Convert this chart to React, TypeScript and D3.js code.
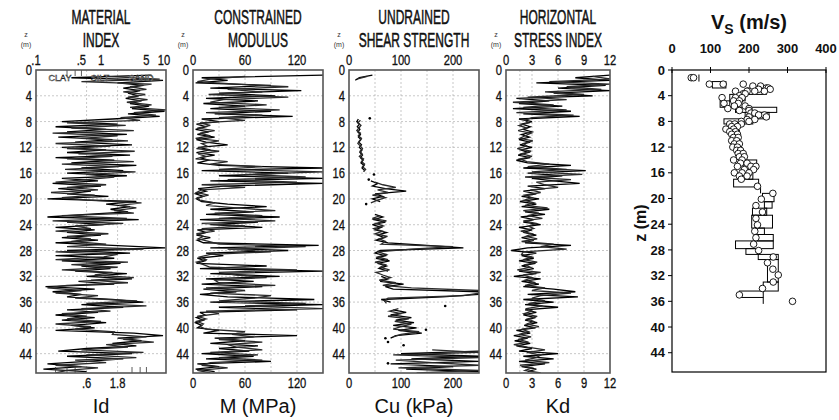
import React from 'react';
import * as d3 from 'd3';

// ---------------- DATA ----------------
// Two DMT soundings, each read every 0.4 m (A from 0.8 m, B from 1.0 m)
const DEPTH_START_A = 0.8;
const DEPTH_START_B = 1.0;
const DEPTH_STEP = 0.4;

const ID_A = [
  6, 0.35, 9, 1.8, 4.5, 2.2, 4, 2.6, 3.8, 2.4,
  4.2, 2.8, 5.5, 3, 9.5, 2.6, 8, 1.5, 0.25, 1.8,
  0.2, 1.2, 0.3, 2.5, 0.22, 1.5, 0.4, 3, 0.25, 1.2,
  0.3, 2.8, 0.2, 1.6, 0.35, 3.5, 0.5, 2.2, 0.3, 2.5,
  0.25, 0.9, 0.18, 1.0, 0.22, 0.7, 0.3, 1.3, 0.15, 3.5,
  1.2, 2.8, 1.4, 2.6, 0.6, 0.15, 3.8, 0.3, 1.1, 0.2,
  0.8, 0.3, 1.0, 0.25, 0.9, 0.2, 1.5, 9.8, 0.3, 2.8,
  0.2, 1.6, 0.25, 2.0, 0.5, 1.4, 0.4, 2.5, 0.6, 3.0,
  0.45, 1.6, 0.14, 0.8, 0.18, 0.5, 0.3, 1.5, 4.5, 0.5,
  2.2, 0.3, 0.9, 0.2, 0.8, 0.25, 1.2, 0.35, 0.8, 0.2,
  3.2, 9, 1.8, 4.2, 1.5, 3.5, 0.6, 0.22, 3.0, 0.3,
  2.2, 0.6, 0.15, 0.5, 0.13, 0.6,
];
const ID_B = [
  1.2, 8, 0.5, 6, 2.8, 5, 2.2, 4.8, 2.6, 5.2,
  2.5, 6, 2.8, 10, 3.2, 7, 2, 4, 0.3, 2.4,
  0.35, 3.2, 0.18, 1.8, 0.5, 2.6, 0.2, 1.4, 0.3, 3.3,
  0.45, 1.5, 0.3, 3.2, 0.25, 1.9, 0.28, 3.4, 0.6, 1.6,
  0.6, 0.2, 1.2, 0.3, 0.9, 0.17, 0.8, 0.25, 0.6, 4.2,
  1.9, 3.5, 1.6, 3.2, 0.25, 2.5, 0.18, 2.2, 0.4, 0.7,
  0.2, 1.3, 0.3, 0.7, 0.35, 1.2, 0.3, 4.5, 0.2, 1.8,
  1.1, 0.2, 2.6, 0.35, 1.8, 0.25, 1.5, 0.8, 3.2, 0.7,
  2.6, 0.3, 0.15, 0.5, 0.2, 0.9, 0.4, 3.6, 0.6, 5,
  0.5, 1.4, 0.25, 0.6, 0.3, 1.0, 0.2, 0.7, 0.4, 1.6,
  1.5, 5, 2.2, 6.5, 1.2, 2.6, 0.5, 4.5, 0.6, 3.5,
  0.4, 1.2, 0.2, 0.9, 0.3, 0.2,
];

const M_A = [
  150, 10, 40, 3, 90, 20, 125, 30, 95, 15,
  75, 12, 60, 20, 90, 25, 115, 10, 30, 4,
  15, 3, 18, 5, 25, 4, 15, 40, 6, 20,
  4, 25, 8, 18, 5, 30, 150, 10, 110, 30,
  150, 20, 150, 35, 6, 15, 3, 12, 4, 10,
  40, 85, 20, 70, 15, 100, 8, 75, 20, 80,
  5, 15, 4, 20, 5, 12, 145, 20, 110, 15,
  35, 5, 14, 4, 85, 8, 150, 20, 100, 15,
  70, 10, 80, 12, 50, 8, 40, 140, 20, 150,
  30, 120, 8, 14, 4, 12, 3, 10, 5, 30,
  12, 120, 25, 60, 20, 75, 30, 65, 10, 70,
  15, 90, 5, 30, 3, 25,
];
const M_B = [
  60, 20, 5, 50, 110, 40, 80, 18, 110, 35,
  20, 85, 30, 100, 15, 80, 30, 60, 8, 20,
  5, 25, 8, 20, 3, 30, 10, 16, 4, 30,
  6, 15, 3, 40, 20, 80, 30, 150, 60, 130,
  40, 120, 10, 60, 10, 4, 18, 5, 8, 25,
  15, 50, 95, 25, 80, 30, 95, 10, 60, 10,
  25, 4, 12, 6, 18, 30, 130, 40, 90, 20,
  8, 15, 4, 12, 20, 120, 30, 50, 85, 25,
  30, 95, 15, 60, 20, 90, 70, 30, 130, 60,
  150, 15, 30, 5, 15, 4, 12, 8, 15, 60,
  45, 70, 30, 80, 40, 50, 80, 20, 75, 30,
  80, 20, 10, 40, 5, 20,
];

const CU_A: (number | null)[] = [
  45, 20, 12, null, null, null, null, null, null, null,
  null, null, null, null, null, null, null, 18, 15, 20,
  16, 21, 17, 22, 18, 23, 19, 24, 20, 25,
  21, 26, 22, 27, 23, 29, 25, 30, null, 45,
  null, 42, 55, 45, 70, 110, 50, 65, 45, 60,
  null, null, null, null, 50, 65, 48, 70, 45, 62,
  50, 72, 55, 68, 52, 75, 150, 220, 60, 50,
  70, 52, 78, 55, 72, 58, 75, null, 62, 75,
  60, 105, 70, 85, 250, 250, 180, 62, 80, null,
  null, 85, 110, 80, 120, 90, 125, 85, 130, 95,
  140, 90, 80, null, null, null, null, 250, 100, 250,
  120, 250, 80, 200, 110, 250,
];
const CU_B: (number | null)[] = [
  35, 15, null, null, null, null, null, null, null, null,
  null, null, null, null, null, null, null, 22, 17, 23,
  19, 15, 22, 18, 24, 20, 17, 22, 26, 21,
  25, 20, 28, 24, 30, 26, 32, 28, null, 40,
  null, 50, 65, 90, 55, 75, 45, 70, 55, 42,
  null, null, null, null, 60, 45, 72, 52, 66, 48,
  65, 50, 74, 58, 70, 62, 200, 120, 55, 72,
  55, 75, 50, 70, 60, 78, 52, 65, 80, 58,
  90, 65, 120, 250, 250, 220, 75, 68, 72, null,
  95, 78, 100, 75, 115, 88, 120, 100, 85, 135,
  100, 85, null, null, null, null, 160, 250, 85, 250,
  90, 160, 250, 95, 250, 130,
];
const CU_DOT_DEPTH = [7.5, 16.2, 17.0, 20.8, 36.6, 40.3, 42.2, 42.7, 45.5, 41.6];
const CU_DOT_VALUE = [40, 48, 38, 33, 185, 148, 75, 105, 75, 70];

const KD_A = [
  12, 8, 12, 3.5, 11.5, 6, 12, 5.5, 10, 1.2,
  5, 1.5, 6.5, 0.8, 7.5, 2, 8.5, 1.5, 3, 1.8,
  2.8, 2, 3, 1.8, 2.7, 1.5, 2.8, 1.6, 3, 1.7,
  2.6, 1.4, 2.8, 1.2, 2.5, 7.5, 2, 9.2, 2.5, 6.5,
  3, 5.5, 8.5, 2.5, 4.5, 2, 3.5, 1.8, 3.8, 1.6,
  3.5, 1.8, 5, 2.2, 4.5, 1.7, 3.2, 2, 4, 1.5,
  3, 2, 3.5, 1.8, 3.2, 2.2, 7.5, 2.5, 0.6, 3.5,
  1.8, 3.2, 1.5, 3.4, 1.8, 3.2, 1.5, 3.5, 0.9, 4,
  1.8, 3.8, 2, 5.5, 8, 2.5, 8.3, 2, 5.5, 2.2,
  6, 2.2, 3.5, 2, 3.4, 2.2, 3.6, 2.1, 3.4, 1.2,
  2.8, 0.9, 2.5, 1, 2.8, 1.2, 3, 1.5, 6, 2,
  5.5, 1.5, 4.5, 1.8, 3.5, 2.5,
];
const KD_B = [
  10, 12, 5, 12, 7, 11, 4.5, 9, 2.5, 7,
  0.8, 5.5, 2, 7, 1.2, 7.8, 3, 2.2, 2.6, 1.5,
  2.4, 1.4, 2.9, 2.2, 1.6, 3.1, 2, 2.4, 1.3, 2.9,
  1.8, 3, 1.6, 2.4, 5, 2.5, 7, 3, 8.8, 2.2,
  7.5, 3.5, 4.5, 6, 2.8, 4, 2.2, 3, 2.1, 3.2,
  2.2, 4.8, 2, 3.8, 2.5, 4.2, 2, 3.5, 2.6, 3.2,
  1.7, 3, 2.3, 3.6, 1.8, 5.5, 4, 7, 2, 1.8,
  3, 2, 3.6, 2.2, 2.8, 1.3, 4, 2, 3, 2.2,
  3.4, 2.2, 4.5, 3, 7.5, 4, 3, 4.5, 2.6, 4.2,
  2.4, 3, 2.1, 3.6, 2.5, 3.2, 2.4, 3.8, 1.8, 2.6,
  1.5, 2.9, 1.4, 2.6, 0.9, 2.5, 4.5, 2.4, 4, 3.5,
  2.2, 5, 1.6, 3, 2.2, 4,
];

// Vs step profile layers (top depth, bottom depth, min Vs, max Vs)
const VS_LAYER_TOP = [0.7, 1.8, 2.8, 3.8, 4.8, 5.8, 6.6, 7.6, 8.4, 9.4, 12, 14, 15.5, 17, 18.2, 19.2, 20.5, 21.5, 22.6, 24.6, 25.6, 26.6, 27.8, 28.7, 29.5, 33.0, 34.4, 35.4];
const VS_LAYER_BOT = [1.8, 2.8, 3.8, 4.8, 5.8, 6.6, 7.6, 8.4, 9.4, 12, 14, 15.5, 17, 18.2, 19.2, 20.5, 21.5, 22.6, 24.6, 25.6, 26.6, 27.8, 28.7, 29.5, 33.0, 34.4, 35.4, 36.4];
const VS_LAYER_MIN = [70, 105, 195, 150, 125, 165, 190, 135, 145, 165, 175, 185, 195, 160, 230, 235, 240, 209, 207, 215, 222, 165, 192, 224, 248, 237, 175, 237];
const VS_LAYER_MAX = [70, 140, 245, 190, 150, 272, 252, 210, 165, 175, 180, 220, 210, 225, 230, 265, 260, 246, 261, 240, 263, 263, 224, 276, 276, 276, 237, 237];

// SCPT measured Vs points
const VS_POINT_DEPTH = [
  1.2, 1.2, 2.2, 2.2, 2.2, 2.5, 2.5, 2.8, 2.8, 3.0, 3.0, 3.3, 3.3, 3.3, 3.3,
  3.7, 3.7, 4.0, 4.3, 4.3, 4.3, 4.8, 4.8, 5.2, 5.2, 5.6, 5.6, 6.0, 6.0, 6.3, 6.3,
  6.7, 6.7, 7.0, 7.0, 7.3, 7.3, 7.7, 7.7, 8.0, 8.0, 8.4, 8.4, 8.4, 8.8, 8.8,
  9.2, 9.2, 9.6, 9.6, 10, 10, 10.5, 10.5, 11, 11, 11.5, 11.5, 12, 12, 12.5, 12.5,
  13, 13, 13.5, 13.5, 14, 14, 14.5, 14.5, 15, 15, 15, 15.5, 15.5, 16, 16, 16, 16.5, 16.5, 17,
  18.1, 19.2, 20.1, 21.1, 22.1, 23.1, 24.1, 25.1, 26.1, 27.1, 28.1, 29.1, 30.0, 31.0, 31.9, 33.0, 34.0, 35.0, 36.0,
];
const VS_POINT_VALUE = [
  50, 56, 97, 133, 185, 210, 230, 245, 250, 225, 255, 165, 195, 215, 240,
  185, 190, 175, 130, 165, 182, 160, 175, 135, 172, 162, 190, 145, 200, 175, 200,
  205, 215, 240, 225, 200, 245, 195, 215, 180, 200, 150, 163, 180, 155, 170,
  140, 160, 150, 165, 155, 170, 160, 172, 155, 168, 162, 175, 158, 170, 168, 178,
  172, 185, 175, 188, 160, 182, 178, 195, 170, 205, 218, 188, 212, 162, 182, 200, 175, 195, 180,
  222, 262, 232, 218, 235, 218, 222, 215, 218, 212, 225, 263, 248, 262, 276, 263, 235, 175, 313,
];

const Z_TICKS = [0, 4, 8, 12, 16, 20, 24, 28, 32, 36, 40, 44];
const VS_X_TICKS = [0, 100, 200, 300, 400];

// ---------------- LAYOUT ----------------
const SANS = "'Liberation Sans', Arial, sans-serif";
const Y_TOP = 70;
const Y_BOT = 373;
const yScale = d3.scaleLinear().domain([0, 47]).range([Y_TOP, Y_BOT]);

type Row = { z: number; v: number | null };
const toRows = (vals: (number | null)[], start: number): Row[] =>
  vals.map((v, i) => ({ z: start + i * DEPTH_STEP, v }));

type PanelCfg = {
  id: string;
  x0: number;
  x1: number;
  log?: boolean;
  domain: [number, number];
  soundings: Row[][];
  topTicks: { v: number; t: string }[];
  bottomTicks: { v: number; t: string }[];
  vgrid: number[];
  title: [string, string];
  axisTitle: string;
  dotsZ?: number[];
  dotsV?: number[];
  minorTop?: number[];
  minorBottom?: number[];
};

const PANELS: PanelCfg[] = [
  {
    id: 'id', x0: 36, x1: 166, log: true, domain: [0.1, 10],
    soundings: [toRows(ID_A, DEPTH_START_A), toRows(ID_B, DEPTH_START_B)],
    topTicks: [{ v: 0.1, t: '.1' }, { v: 0.5, t: '.5' }, { v: 1, t: '1' }, { v: 5, t: '5' }, { v: 10, t: '10' }],
    bottomTicks: [{ v: 0.6, t: '.6' }, { v: 1.8, t: '1.8' }],
    vgrid: [0.6, 1.8], title: ['MATERIAL', 'INDEX'], axisTitle: 'Id',
    minorTop: [0.3, 0.4, 0.5], minorBottom: [0.2, 0.3, 0.4, 3, 4, 5],
  },
  {
    id: 'm', x0: 193, x1: 323, domain: [0, 150],
    soundings: [toRows(M_A, DEPTH_START_A), toRows(M_B, DEPTH_START_B)],
    topTicks: [{ v: 0, t: '0' }, { v: 60, t: '60' }, { v: 120, t: '120' }],
    bottomTicks: [{ v: 0, t: '0' }, { v: 60, t: '60' }, { v: 120, t: '120' }],
    vgrid: [30, 60, 90, 120], title: ['CONSTRAINED', 'MODULUS'], axisTitle: 'M (MPa)',
  },
  {
    id: 'cu', x0: 349, x1: 479, domain: [0, 250],
    soundings: [toRows(CU_A, DEPTH_START_A), toRows(CU_B, DEPTH_START_B)],
    topTicks: [{ v: 0, t: '0' }, { v: 100, t: '100' }, { v: 200, t: '200' }],
    bottomTicks: [{ v: 0, t: '0' }, { v: 100, t: '100' }, { v: 200, t: '200' }],
    vgrid: [50, 100, 150, 200], title: ['UNDRAINED', 'SHEAR STRENGTH'], axisTitle: 'Cu (kPa)',
    dotsZ: CU_DOT_DEPTH, dotsV: CU_DOT_VALUE,
  },
  {
    id: 'kd', x0: 506, x1: 610, domain: [0, 12],
    soundings: [toRows(KD_A, DEPTH_START_A), toRows(KD_B, DEPTH_START_B)],
    topTicks: [0, 3, 6, 9, 12].map((v) => ({ v, t: String(v) })),
    bottomTicks: [0, 3, 6, 9, 12].map((v) => ({ v, t: String(v) })),
    vgrid: [1.6, 3, 6, 9], title: ['HORIZONTAL', 'STRESS INDEX'], axisTitle: 'Kd',
  },
];

const SOUNDING_COLORS = ['#000', '#2a2a2a'];

function NText(props: { x: number; y: number; sx?: number; anchor?: string; size?: number; children: React.ReactNode; sw?: number; color?: string }) {
  const { x, y, sx = 0.8, anchor = 'middle', size = 14, sw = 0.3, color = '#111' } = props;
  return (
    <text transform={`translate(${x},${y}) scale(${sx},1)`} textAnchor={anchor} fontFamily={SANS} fontSize={size} fill={color} stroke={sw > 0 ? color : 'none'} strokeWidth={sw}>
      {props.children}
    </text>
  );
}

function Panel({ p }: { p: PanelCfg }) {
  const x = p.log
    ? d3.scaleLog().domain(p.domain).range([p.x0, p.x1]).clamp(true)
    : d3.scaleLinear().domain(p.domain).range([p.x0, p.x1]).clamp(true);
  const cx = (p.x0 + p.x1) / 2;
  const line = d3
    .line<Row>()
    .defined((d) => d.v !== null && d.v !== undefined)
    .x((d) => x(d.v as number))
    .y((d) => yScale(d.z));
  const clipId = `clip-${p.id}`;
  return (
    <g>
      <clipPath id={clipId}>
        <rect x={p.x0} y={Y_TOP} width={p.x1 - p.x0} height={Y_BOT - Y_TOP} />
      </clipPath>
      {Z_TICKS.filter((z) => z > 0).map((z) => (
        <line key={'h' + z} x1={p.x0} x2={p.x1} y1={yScale(z)} y2={yScale(z)} stroke="#b0b0b0" strokeWidth={0.7} strokeDasharray="2,2" />
      ))}
      {p.vgrid.map((v) => (
        <line key={'v' + v} x1={x(v)} x2={x(v)} y1={Y_TOP} y2={Y_BOT} stroke="#b0b0b0" strokeWidth={0.7} strokeDasharray="2,2" />
      ))}
      <g clipPath={`url(#${clipId})`}>
        {p.soundings.map((rows, k) => (
          <path key={'s' + k} d={line(rows) || ''} fill="none" stroke={SOUNDING_COLORS[k]} strokeWidth={1.3} strokeLinejoin="miter" />
        ))}
        {p.dotsZ &&
          p.dotsZ.map((z, i) => <circle key={'d' + i} cx={x(p.dotsV![i])} cy={yScale(z)} r={1.3} fill="#000" />)}
      </g>
      {p.minorTop &&
        p.minorTop.map((v) => <line key={'mt' + v} x1={x(v)} x2={x(v)} y1={Y_TOP} y2={Y_TOP + 6} stroke="#333" strokeWidth={0.8} />)}
      {p.minorBottom &&
        p.minorBottom.map((v) => <line key={'mb' + v} x1={x(v)} x2={x(v)} y1={Y_BOT} y2={Y_BOT - 6} stroke="#333" strokeWidth={0.8} />)}
      {p.id === 'id' && (
        <g fontFamily={SANS} fontSize={9} fill="#fff" stroke="#222" strokeWidth={0.5} textAnchor="middle">
          <text x={60} y={81}>CLAY</text>
          <text x={100} y={81}>SILT</text>
          <text x={141} y={81}>SAND</text>
        </g>
      )}
      <rect x={p.x0} y={Y_TOP} width={p.x1 - p.x0} height={Y_BOT - Y_TOP} fill="none" stroke="#555" strokeWidth={1.6} />
      {Z_TICKS.map((z) => (
        <NText key={'z' + z} x={p.x0 - 4} y={yScale(z) + 5} anchor="end">{z}</NText>
      ))}
      <NText x={p.x0 - 10} y={37} sx={1} size={7} sw={0} color="#333">z</NText>
      <NText x={p.x0 - 10} y={47} sx={1} size={7} sw={0} color="#333">(m)</NText>
      {p.topTicks.map((t) => (
        <NText key={'t' + t.t} x={x(t.v) + (p.log && t.v === p.domain[1] ? -2 : 0)} y={65}>{t.t}</NText>
      ))}
      {p.bottomTicks.map((t) => (
        <NText key={'b' + t.t} x={x(t.v)} y={388}>{t.t}</NText>
      ))}
      <NText x={cx} y={24} sx={0.6} size={20} sw={0.5}>{p.title[0]}</NText>
      <NText x={cx} y={47} sx={0.6} size={20} sw={0.5}>{p.title[1]}</NText>
      <text x={cx} y={413} fontFamily={SANS} fontSize={20} fill="#111" textAnchor="middle">{p.axisTitle}</text>
    </g>
  );
}

function VsPanel() {
  const x0 = 672, x1 = 826, yb = 372;
  const x = d3.scaleLinear().domain([0, 400]).range([x0, x1]);
  const y = d3.scaleLinear().domain([0, 47]).range([Y_TOP, yb]);
  const cx = (x0 + x1) / 2;
  return (
    <g>
      <rect x={x0} y={Y_TOP} width={x1 - x0} height={yb - Y_TOP} fill="none" stroke="#000" strokeWidth={1.2} />
      {VS_X_TICKS.map((v) => (
        <g key={'xt' + v}>
          <line x1={x(v)} x2={x(v)} y1={Y_TOP - 3} y2={Y_TOP + 3} stroke="#000" strokeWidth={1} />
          <text x={x(v)} y={53} fontFamily={SANS} fontWeight="bold" fontSize={13} textAnchor="middle" fill="#111">{v}</text>
        </g>
      ))}
      {Z_TICKS.map((z) => (
        <g key={'yt' + z}>
          <line x1={x0 - 4} x2={x0} y1={y(z)} y2={y(z)} stroke="#000" strokeWidth={1} />
          <text x={x0 - 7} y={y(z)} dy="0.36em" fontFamily={SANS} fontWeight="bold" fontSize={13} textAnchor="end" fill="#111">{z}</text>
        </g>
      ))}
      {VS_LAYER_TOP.map((t, i) => {
        const b = VS_LAYER_BOT[i];
        const lo = VS_LAYER_MIN[i];
        const hi = VS_LAYER_MAX[i];
        if (lo === hi) {
          return <line key={'l' + i} x1={x(lo)} x2={x(lo)} y1={y(t)} y2={y(b)} stroke="#000" strokeWidth={1} />;
        }
        return (
          <rect key={'l' + i} x={x(lo)} y={y(t)} width={x(hi) - x(lo)} height={y(b) - y(t)} fill="none" stroke="#000" strokeWidth={1} />
        );
      })}
      {VS_POINT_DEPTH.map((z, i) => (
        <circle key={'p' + i} cx={x(VS_POINT_VALUE[i])} cy={y(z)} r={3.3} fill="#fff" stroke="#000" strokeWidth={0.9} />
      ))}
      <text x={cx} y={29} fontFamily={SANS} fontWeight="bold" fontSize={20} textAnchor="middle" fill="#111">
        V<tspan fontSize={14} dy={5}>S</tspan><tspan dy={-5}> (m/s)</tspan>
      </text>
      <text transform={`translate(646,${(Y_TOP + yb) / 2 + 2}) rotate(-90)`} fontFamily={SANS} fontWeight="bold" fontSize={16} textAnchor="middle" fill="#111">z (m)</text>
    </g>
  );
}

export default function App() {
  return (
    <svg width={839} height={420} viewBox="0 0 839 420" style={{ position: 'absolute', left: 0, top: 0, background: '#fff' }}>
      <rect x={0} y={0} width={839} height={420} fill="#fff" />
      {PANELS.map((p) => (
        <Panel key={p.id} p={p} />
      ))}
      <VsPanel />
    </svg>
  );
}
